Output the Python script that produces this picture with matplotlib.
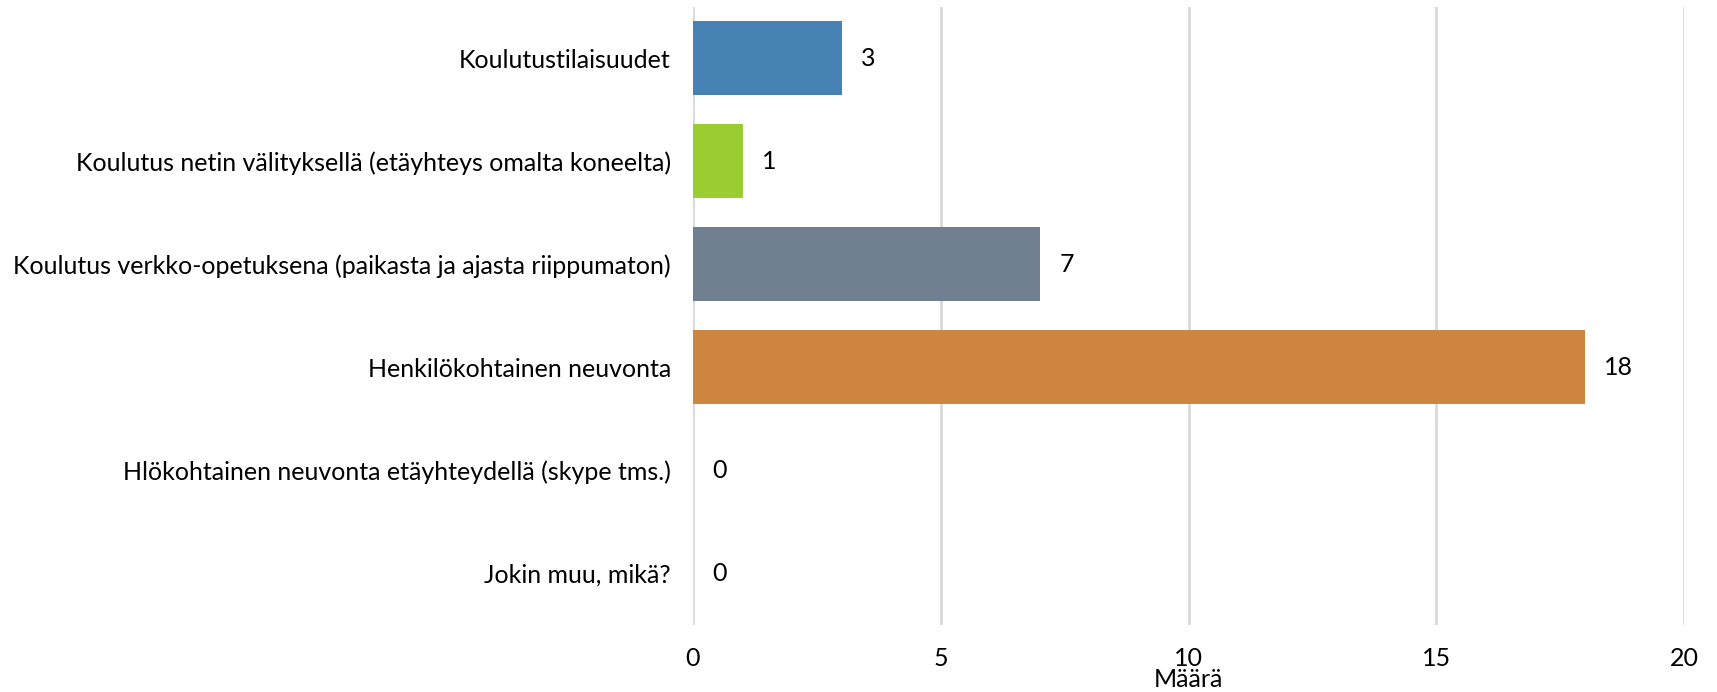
import matplotlib
matplotlib.use("Agg")
import matplotlib.pyplot as plt

# Data
categories = [
    "Koulutustilaisuudet",
    "Koulutus netin välityksellä (etäyhteys omalta koneelta)",
    "Koulutus verkko-opetuksena (paikasta ja ajasta riippumaton)",
    "Henkilökohtainen neuvonta",
    "Hlökohtainen neuvonta etäyhteydellä (skype tms.)",
    "Jokin muu, mikä?",
]
counts = [3, 1, 7, 18, 0, 0]
colors = ["#4682B4", "#9ACD32", "#708090", "#CD853F", "#4682B4", "#9ACD32"]
x_ticks = [0, 5, 10, 15, 20]

plt.rcParams["font.family"] = ["Lato", "DejaVu Sans"]
fs = 18

fig = plt.figure(figsize=(17.17, 6.92), dpi=100)
ax = fig.add_axes([0.4036, 0.0975, 0.5772, 0.8931])

y = list(range(len(categories)))
ax.barh(y, counts, height=0.72, color=colors, zorder=3)
for yi, v in zip(y, counts):
    ax.annotate(str(v), (v, yi), xytext=(14, 0), textcoords="offset points",
                va="center", ha="left", fontsize=fs, color="black")

ax.set_xlim(0, 20)
ax.set_ylim(len(categories) - 0.5, -0.5)
ax.set_yticks(y)
ax.set_yticklabels(categories, fontsize=fs)
ax.set_xticks(x_ticks)
ax.set_xticklabels([str(t) for t in x_ticks], fontsize=fs)
ax.tick_params(axis="both", length=0)
ax.tick_params(axis="y", pad=16)
ax.tick_params(axis="x", pad=16)
ax.set_xlabel("Määrä", fontsize=fs, labelpad=-1)

for s in ax.spines.values():
    s.set_visible(False)
ax.grid(axis="x", color="#d9d9d9", linewidth=2, zorder=0)

fig.savefig("out.png", dpi=100)
